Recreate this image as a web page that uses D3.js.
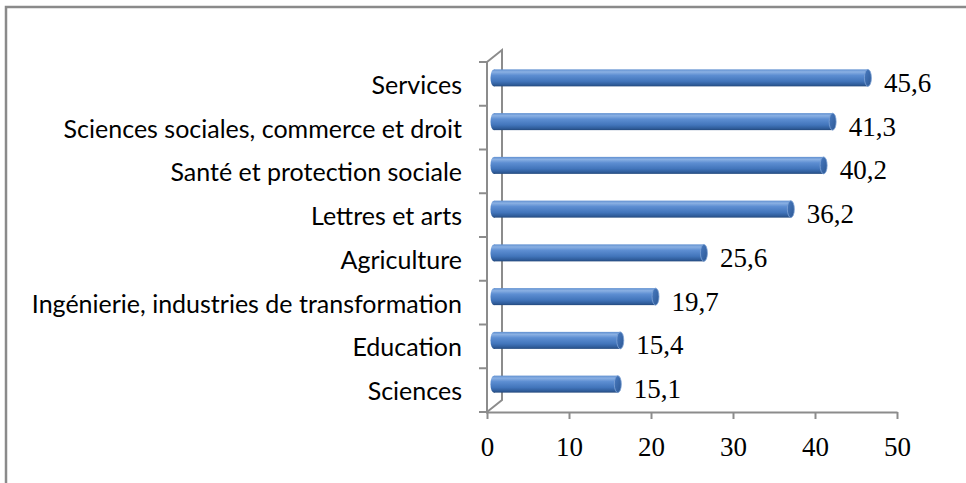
<!DOCTYPE html>
<html><head><meta charset="utf-8">
<script src="https://cdn.jsdelivr.net/npm/d3@7"></script>
<style>body{margin:0;background:#fff}svg{display:block}</style>
</head><body>
<svg id="c" width="966" height="483"></svg>
<script>
const categories = ["Services","Sciences sociales, commerce et droit","Santé et protection sociale","Lettres et arts","Agriculture","Ingénierie, industries de transformation","Education","Sciences"];
const values = [45.6,41.3,40.2,36.2,25.6,19.7,15.4,15.1];
const xTicks = [0,10,20,30,40,50];
const valueLabels = ["45,6","41,3","40,2","36,2","25,6","19,7","15,4","15,1"];

const svg = d3.select("#c");
const defs = svg.append("defs");
const g1 = defs.append("linearGradient").attr("id","cyl").attr("x1",0).attr("y1",0).attr("x2",0).attr("y2",1);
[[0,"#5f8fd0"],[0.15,"#8ab0e3"],[0.35,"#5d8ed2"],[0.7,"#4275bb"],[0.9,"#2f5c9a"],[1,"#24497c"]].forEach(s=>g1.append("stop").attr("offset",s[0]).attr("stop-color",s[1]));
const g2 = defs.append("linearGradient").attr("id","cap").attr("x1",0).attr("y1",0).attr("x2",1).attr("y2",1);
[[0,"#4a7cc2"],[1,"#2c5793"]].forEach(s=>g2.append("stop").attr("offset",s[0]).attr("stop-color",s[1]));

// outer frame
svg.append("rect").attr("x",6).attr("y",7).attr("width",1000).attr("height",1000)
  .attr("fill","none").attr("stroke","#8a8a8a").attr("stroke-width",2.5);

const x = d3.scaleLinear().domain([0,50]).range([487,897]);
const y = d3.scaleBand().domain(categories).range([62,412]);
const dx = 15, dy = 12;
const grey = "#8c8c8c";
const serif = "'Liberation Serif','Times New Roman',serif";

// back wall / side lines
const axisG = svg.append("g").attr("stroke",grey).attr("stroke-width",2).attr("fill","none");
const y0 = y.range()[0], y1 = y.range()[1];
axisG.append("path").attr("d",`M${x(0)},${y0}L${x(0)+dx},${y0-dy}L${x(0)+dx},${y1-dy}L${x(0)},${y1}L${x(0)},${y0}`);
// left ticks at band boundaries
const bounds = categories.map(c=>y(c)).concat([y1]);
bounds.forEach(b=>axisG.append("line").attr("x1",x(0)-8).attr("x2",x(0)).attr("y1",b).attr("y2",b));

// x axis
const xa = svg.append("g").attr("transform",`translate(0,${y1})`)
  .call(d3.axisBottom(x).tickValues(xTicks).tickSize(7).tickSizeOuter(0).tickPadding(18));
xa.select(".domain").attr("stroke",grey).attr("stroke-width",2);
xa.selectAll(".tick line").attr("stroke",grey).attr("stroke-width",2);
xa.selectAll(".tick text").attr("font-family",serif).attr("font-size",27).attr("fill","#000");

// bars
const bw = 17, off = 7, lift = 6;
const bars = svg.append("g");
categories.forEach((c,i)=>{
  const cy = y(c)+y.bandwidth()/2 - lift;
  const xs = x(0)+off, xe = x(values[i])+off;
  const g = bars.append("g");
  g.append("ellipse").attr("cx",xs).attr("cy",cy).attr("rx",3.5).attr("ry",bw/2).attr("fill","url(#cyl)");
  g.append("rect").attr("x",xs).attr("y",cy-bw/2).attr("width",xe-xs).attr("height",bw).attr("fill","url(#cyl)");
  g.append("ellipse").attr("cx",xe).attr("cy",cy).attr("rx",3.5).attr("ry",bw/2).attr("fill","url(#cap)").attr("stroke","#7fa3d6").attr("stroke-width",0.8);
  svg.append("text").attr("x",xe+16).attr("y",y(c)+y.bandwidth()/2+8)
    .attr("font-family",serif).attr("font-size",27).attr("fill","#000")
    .text(valueLabels[i]);
  svg.append("text").attr("x",462).attr("y",y(c)+y.bandwidth()/2+10).attr("text-anchor","end")
    .attr("font-family","Lato, 'Open Sans', sans-serif").attr("font-size",25).attr("fill","#000")
    .text(c);
});
</script>
</body></html>
